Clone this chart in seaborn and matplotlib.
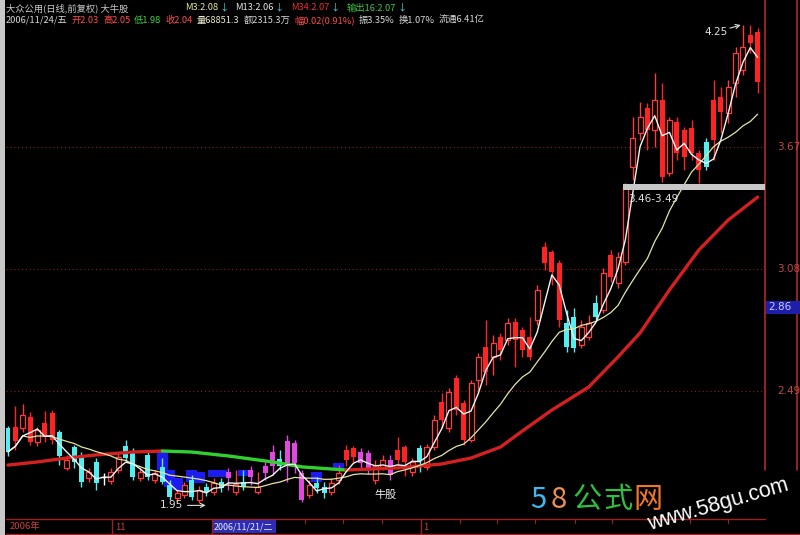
import matplotlib
matplotlib.use("Agg")
import numpy as np
import pandas as pd
import matplotlib.pyplot as plt
from matplotlib.lines import Line2D
from matplotlib.patches import Rectangle
import seaborn as sns

W, H = 800, 535

# ---- candles (one per trading day) ----
# u = hollow red (up), R = filled red, c = filled cyan, m = magenta, w = doji
styles = list("cRuRuRRcuc" "cucwuuccuc" "uccuucucuc" "mucmummcmm" "muccuuRRmm"
              "uumRRucuuR" "uRRuuRuRuR" "RRuRRRccuu" "cuRuuuuRuR" "uRRRRcRRuu" "uRR")

opens = [2.311, 2.316, 2.311, 2.365, 2.243, 2.336, 2.384, 2.292, 2.118, 2.220,
         2.181, 2.070, 2.147, 2.075, 2.055, 2.108, 2.224, 2.191, 2.070, 2.181,
         2.060, 2.123, 2.036, 1.973, 1.988, 2.060, 1.963, 2.026, 2.002, 2.050,
         2.099, 2.002, 2.050, 2.108, 2.002, 2.128, 2.196, 2.162, 2.249, 2.239,
         2.094, 1.988, 2.046, 2.026, 2.002, 2.060, 2.205, 2.215, 2.196, 2.191,
         2.060, 2.123, 2.157, 2.205, 2.220, 2.099, 2.215, 2.123, 2.220, 2.437,
         2.311, 2.553, 2.432, 2.253, 2.543, 2.703, 2.655, 2.751, 2.737, 2.824,
         2.785, 2.751, 2.833, 3.186, 3.162, 3.109, 2.819, 2.848, 2.713, 2.751,
         2.916, 2.882, 3.148, 3.012, 3.114, 3.573, 3.738, 3.859, 3.752, 3.897,
         3.544, 3.791, 3.752, 3.762, 3.641, 3.694, 3.897, 3.912, 3.835, 3.980,
         4.042, 4.212, 4.226]
highs = [2.321, 2.418, 2.428, 2.389, 2.316, 2.394, 2.399, 2.302, 2.181, 2.229,
         2.196, 2.118, 2.167, 2.094, 2.118, 2.196, 2.253, 2.215, 2.118, 2.205,
         2.108, 2.167, 2.060, 2.012, 2.050, 2.084, 2.031, 2.046, 2.070, 2.070,
         2.118, 2.108, 2.108, 2.128, 2.099, 2.147, 2.229, 2.205, 2.278, 2.253,
         2.108, 2.060, 2.075, 2.050, 2.070, 2.133, 2.229, 2.224, 2.215, 2.205,
         2.157, 2.181, 2.181, 2.268, 2.229, 2.167, 2.229, 2.234, 2.374, 2.480,
         2.505, 2.567, 2.447, 2.543, 2.674, 2.833, 2.761, 2.771, 2.843, 2.843,
         2.800, 2.848, 3.003, 3.211, 3.172, 3.124, 2.882, 2.892, 2.833, 2.858,
         2.954, 3.085, 3.172, 3.162, 3.496, 3.815, 3.888, 3.883, 4.028, 3.980,
         3.815, 3.815, 3.767, 3.801, 3.656, 3.714, 3.994, 3.960, 3.994, 4.154,
         4.260, 4.260, 4.246]
lows = [2.176, 2.205, 2.292, 2.229, 2.224, 2.243, 2.234, 2.133, 2.108, 2.118,
        2.026, 2.050, 2.012, 2.036, 2.041, 2.094, 2.147, 2.060, 2.055, 2.060,
        2.046, 2.041, 1.963, 1.955, 1.973, 1.963, 1.949, 1.983, 1.988, 2.002,
        2.012, 1.988, 2.012, 2.036, 1.992, 2.060, 2.084, 2.108, 2.050, 2.094,
        1.955, 1.973, 1.997, 1.973, 1.988, 2.041, 2.128, 2.147, 2.108, 2.089,
        2.041, 2.108, 2.060, 2.133, 2.079, 2.079, 2.099, 2.108, 2.205, 2.311,
        2.292, 2.374, 2.229, 2.243, 2.495, 2.519, 2.567, 2.640, 2.713, 2.606,
        2.655, 2.640, 2.809, 3.075, 3.003, 2.800, 2.679, 2.679, 2.698, 2.737,
        2.833, 2.867, 3.017, 2.988, 3.099, 3.511, 3.704, 3.656, 3.670, 3.501,
        3.530, 3.607, 3.559, 3.607, 3.496, 3.559, 3.607, 3.738, 3.786, 3.912,
        4.018, 4.125, 3.931]
closes = [2.196, 2.249, 2.374, 2.243, 2.302, 2.268, 2.253, 2.176, 2.157, 2.147,
          2.050, 2.099, 2.046, 2.075, 2.099, 2.171, 2.167, 2.075, 2.099, 2.075,
          2.094, 2.050, 1.978, 1.997, 2.036, 1.978, 2.012, 2.002, 2.046, 2.021,
          2.070, 2.041, 2.026, 2.075, 2.026, 2.094, 2.128, 2.128, 2.142, 2.142,
          1.963, 2.036, 2.021, 1.997, 2.046, 2.094, 2.157, 2.171, 2.142, 2.108,
          2.133, 2.157, 2.084, 2.157, 2.147, 2.147, 2.152, 2.220, 2.350, 2.350,
          2.485, 2.398, 2.253, 2.529, 2.655, 2.582, 2.722, 2.688, 2.819, 2.737,
          2.688, 2.655, 2.979, 3.109, 3.066, 2.833, 2.703, 2.698, 2.800, 2.819,
          2.848, 3.061, 3.041, 3.138, 3.486, 3.714, 3.815, 3.752, 3.897, 3.525,
          3.801, 3.641, 3.622, 3.641, 3.559, 3.573, 3.704, 3.839, 3.960, 4.125,
          4.154, 4.173, 3.984]

# thick long average (M34), read as points; green while falling
ma34_idx = [0, 4, 8, 12, 17, 21, 25, 30, 36, 40, 46, 53, 59, 63, 67, 70, 74,
            79, 83, 86, 90, 94, 98, 102]
ma34_val = [2.132, 2.147, 2.166, 2.181, 2.195, 2.200, 2.195, 2.176, 2.147,
            2.123, 2.108, 2.118, 2.137, 2.166, 2.219, 2.297, 2.398, 2.509,
            2.655, 2.771, 2.979, 3.172, 3.317, 3.428]
green_from, green_to = 21, 46

# blue signal blobs
blue_idx = [21, 22, 23, 25, 26, 28, 29, 32, 42, 45]
blue_top = [2.195, 2.108, 2.070, 2.108, 2.099, 2.108, 2.108, 2.108, 2.099, 2.142]
blue_bot = [2.108, 2.026, 2.012, 2.050, 2.046, 2.075, 2.075, 2.079, 2.050, 2.108]

axis_levels = [3.67, 3.08, 2.49]
zone_lo, zone_hi, zone_start = 3.46, 3.49, 84
hi_mark, lo_mark = 4.25, 1.95

header1 = [("大众公用(日线,前复权) 大牛股", "#c8c8c8")]
header_ma = [("M3:2.08", "#e6e6a0"), ("M13:2.06", "#e6e6e6"),
             ("M34:2.07", "#e83030"), ("输出16:2.07", "#40c840")]
header2 = [("2006/11/24/五", "#d8d8d8"), ("开2.03", "#ff4a4a"), ("高2.05", "#ff4a4a"),
           ("低1.98", "#40d040"), ("收2.04", "#ff4a4a"), ("量68851.3", "#e8e8c8"),
           ("额2315.3万", "#d8d8d8"), ("幅0.02(0.91%)", "#ff4a4a"), ("振3.35%", "#d8d8d8"),
           ("换1.07%", "#d8d8d8"), ("流通6.41亿", "#d8d8d8")]

# ---- drawing ----
sns.set_theme(style="dark")
plt.rcParams["font.family"] = ["Noto Sans CJK SC", "DejaVu Sans"]
plt.rcParams["patch.edgecolor"] = "none"

df = pd.DataFrame({"open": opens, "high": highs, "low": lows, "close": closes,
                   "style": styles})
df["idx"] = np.arange(len(df))
df["ma3"] = df["close"].rolling(3, min_periods=1).mean()
df["ma13"] = df["close"].rolling(13, min_periods=1).mean()

fig = plt.figure(figsize=(W / 100, H / 100), dpi=100, facecolor="black")
ax = fig.add_axes([6 / W, (H - 518) / H, 759 / W, 518 / H])
ax.set_facecolor("black")
ax.set_axis_off()

col = {"u": "#ff3c3c", "R": "#ff2424", "c": "#54eef0", "m": "#e048e0", "w": "#ffffff"}

for lvl in axis_levels:
    ax.axhline(lvl, color="#8a2020", lw=0.8, ls=(0, (1, 2.5)), zorder=1)
    ax.text(1.016, lvl, f"{lvl:.2f}", transform=ax.get_yaxis_transform(),
            color="#c04848", fontsize=7.5, va="center", ha="left",
            family="DejaVu Sans")

ax.bar(blue_idx, np.array(blue_top) - np.array(blue_bot), bottom=blue_bot,
       width=1.5, color="#1c1cf0", lw=0, zorder=2)

for r in df.itertuples():
    c = col[r.style]
    ax.vlines(r.idx, r.low, r.high, color=c, lw=1, zorder=3)
    lo, hi = min(r.open, r.close), max(r.open, r.close)
    if r.style == "u":
        ax.bar(r.idx, hi - lo, bottom=lo, width=0.68, facecolor="black",
               edgecolor=c, lw=0.9, zorder=4)
    elif r.style == "w":
        ax.hlines(r.close, r.idx - 0.35, r.idx + 0.35, color=c, lw=1, zorder=4)
    else:
        ax.bar(r.idx, max(hi - lo, 0.006), bottom=lo, width=0.68, color=c,
               lw=0, zorder=4)

ma34 = pd.DataFrame({"idx": ma34_idx, "val": ma34_val})
segs = [(ma34[ma34.idx <= green_from], "#d42020"),
        (ma34[(ma34.idx >= green_from) & (ma34.idx <= green_to)], "#30d030"),
        (ma34[ma34.idx >= green_to], "#d42020")]
for seg, c in segs:
    sns.lineplot(data=seg, x="idx", y="val", ax=ax, color=c, lw=2.4,
                 sort=False, zorder=4.5, legend=False)

sns.lineplot(data=df, x="idx", y="ma13", ax=ax, color="#e4e4a4", lw=0.9,
             zorder=5, legend=False)
sns.lineplot(data=df, x="idx", y="ma3", ax=ax, color="#f4f4f4", lw=1.0,
             zorder=5.5, legend=False)
ax.set_xlim(-0.27, 103.0)
ax.set_ylim(1.876, 4.381)
ax.set_axis_off()

ax.fill_between([zone_start - 0.35, 103.0], zone_lo, zone_hi, color="#c8c8c8",
                lw=0, zorder=6)
ax.text(zone_start + 0.4, zone_lo - 0.015, f"{zone_lo:.2f}-{zone_hi:.2f}",
        color="#e0e0e0", fontsize=7.5, va="top", ha="left", family="DejaVu Sans",
        zorder=7)

i_hi = int(np.argmax(highs))
i_lo = int(np.argmin(lows))
ax.annotate(f"{hi_mark:.2f}", xy=(i_hi - 0.3, highs[i_hi]),
            xytext=(i_hi - 5.3, highs[i_hi] - 0.035), color="#e0e0e0", fontsize=7.5,
            va="center", ha="left", family="DejaVu Sans",
            arrowprops=dict(arrowstyle="->", color="#e0e0e0", lw=0.8,
                            shrinkA=0, shrinkB=0), zorder=7)
ax.annotate(f"{lo_mark:.2f}", xy=(i_lo + 0.9, lows[i_lo] - 0.012),
            xytext=(i_lo - 5.3, lows[i_lo] - 0.012), color="#e0e0e0", fontsize=7.5,
            va="center", ha="left", family="DejaVu Sans",
            arrowprops=dict(arrowstyle="->", color="#e0e0e0", lw=0.8,
                            shrinkA=1, shrinkB=0), zorder=7)
ax.text(51.3, 1.99, "牛股", color="#f0f0f0", fontsize=8, ha="center", va="center",
        zorder=7)

# right border lines
for xf in (1.0, 1 + 32 / 759):
    ax.add_line(Line2D([xf, xf], [(518 - 470) / 518, 1.0], transform=ax.transAxes,
                       color="#b02828", lw=1.2, clip_on=False))


def fx(px):
    return px / W


def fy(py):
    return 1 - py / H


# current price tag
fig.add_artist(Rectangle((fx(766), fy(314)), 34 / W, 13 / H, transform=fig.transFigure,
                         color="#1e1ea8", lw=0))
fig.text(fx(768), fy(307.5), "2.86", color="#c8c8ff", fontsize=7.5, va="center",
         family="DejaVu Sans")

# left window strip
fig.add_artist(Rectangle((0, 0), 5 / W, 1, transform=fig.transFigure,
                         color="#c8c8c8", lw=0))

# header
renderer = fig.canvas.get_renderer()


def row(items, x0, y, gap, size=6.7):
    x = x0
    for s, c in items:
        t = fig.text(fx(x), fy(y), s, color=c, fontsize=size, va="center", ha="left")
        x += t.get_window_extent(renderer=renderer).width + gap
    return x


row(header1, 6, 8, 4)
x = 185
for s, c in header_ma:
    x = row([(s, c), ("↓", "#48d8d8")], x, 8, 1)
    x += 6
row(header2, 6, 20, 4)

# date bar
for py, x1 in ((519, 765), (534, 800)):
    fig.add_artist(Line2D([fx(6), fx(x1)], [fy(py), fy(py)], color="#a02020", lw=1))
for px in (112, 212, 421):
    fig.add_artist(Line2D([fx(px), fx(px)], [fy(519), fy(534)], color="#a02020", lw=1))
for px in (305, 343, 382, 460, 497, 535, 575, 612, 650, 690, 728):
    fig.add_artist(Line2D([fx(px), fx(px)], [fy(519), fy(523)], color="#a02020", lw=0.8))
fig.add_artist(Rectangle((fx(213), fy(533)), 63 / W, 13 / H, transform=fig.transFigure,
                         color="#2c2cb4", lw=0))
fig.text(fx(10), fy(527), "2006年", color="#c84040", fontsize=6.8, va="center")
fig.text(fx(115), fy(527), "11", color="#c84040", fontsize=6.8, va="center")
fig.text(fx(214), fy(527), "2006/11/21/二", color="#f0f0f0", fontsize=6.4, va="center")
fig.text(fx(423), fy(527), "1", color="#c84040", fontsize=6.8, va="center")

# watermark
for s, c, px in (("5", "#40b8f0", 530), ("8", "#f09050", 551), ("公", "#30c040", 573),
                 ("式", "#30c040", 603), ("网", "#f07828", 633)):
    fig.text(fx(px), fy(500), s, color=c, fontsize=21, va="center", ha="left")
fig.text(fx(718), fy(505), "www.58gu.com", color="#ffffff", fontsize=15.5,
         rotation=16, ha="center", va="center", family="Liberation Sans")

fig.savefig("out.png", dpi=100, facecolor="black")
